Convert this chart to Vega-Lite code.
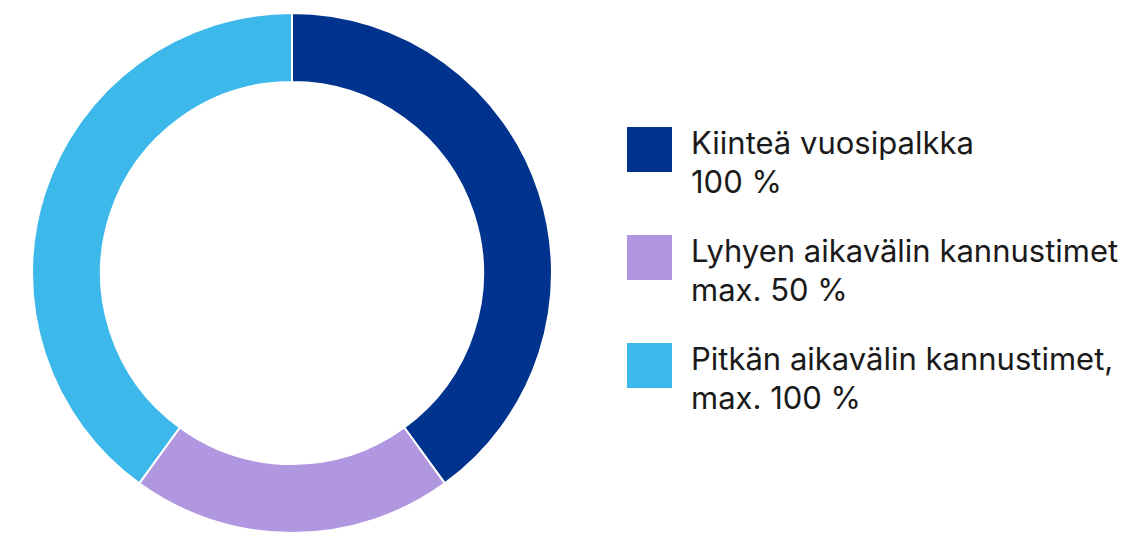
{
  "$schema": "https://vega.github.io/schema/vega-lite/v6.json",
  "width": 584,
  "height": 546,
  "padding": 0,
  "background": "white",
  "view": {"stroke": null},
  "config": {"style": {"guide-label": {"lineHeight": 39, "dy": 4}}},
  "data": {
    "values": [
      {"category": "Kiinteä vuosipalkka\n100 %", "value": 100, "order": 1},
      {"category": "Lyhyen aikavälin kannustimet\nmax. 50 %", "value": 50, "order": 2},
      {"category": "Pitkän aikavälin kannustimet,\nmax. 100 %", "value": 100, "order": 3}
    ]
  },
  "mark": {"type": "arc", "outerRadius": 260, "innerRadius": 191, "stroke": "white", "strokeWidth": 2},
  "encoding": {
    "theta": {"field": "value", "type": "quantitative", "stack": true},
    "order": {"field": "order", "type": "quantitative", "sort": "ascending"},
    "color": {
      "field": "category",
      "type": "nominal",
      "sort": null,
      "scale": {
        "domain": ["Kiinteä vuosipalkka\n100 %", "Lyhyen aikavälin kannustimet\nmax. 50 %", "Pitkän aikavälin kannustimet,\nmax. 100 %"],
        "range": ["#00338D", "#B196E0", "#3DB8EA"]
      },
      "legend": {
        "title": null,
        "orient": "none",
        "legendX": 627,
        "legendY": 127,
        "padding": 0,
        "symbolType": "square",
        "symbolSize": 2025,
        "symbolStrokeWidth": 0,
        "symbolOpacity": 1,
        "labelFont": "Inter",
        "labelFontSize": 31,
        "labelColor": "#1a1a1a",
        "labelOffset": 19,
        "labelLimit": 0,
        "labelBaseline": "alphabetic",
        "labelExpr": "split(datum.label, '\\n')",
        "rowPadding": 36
      }
    }
  }
}
